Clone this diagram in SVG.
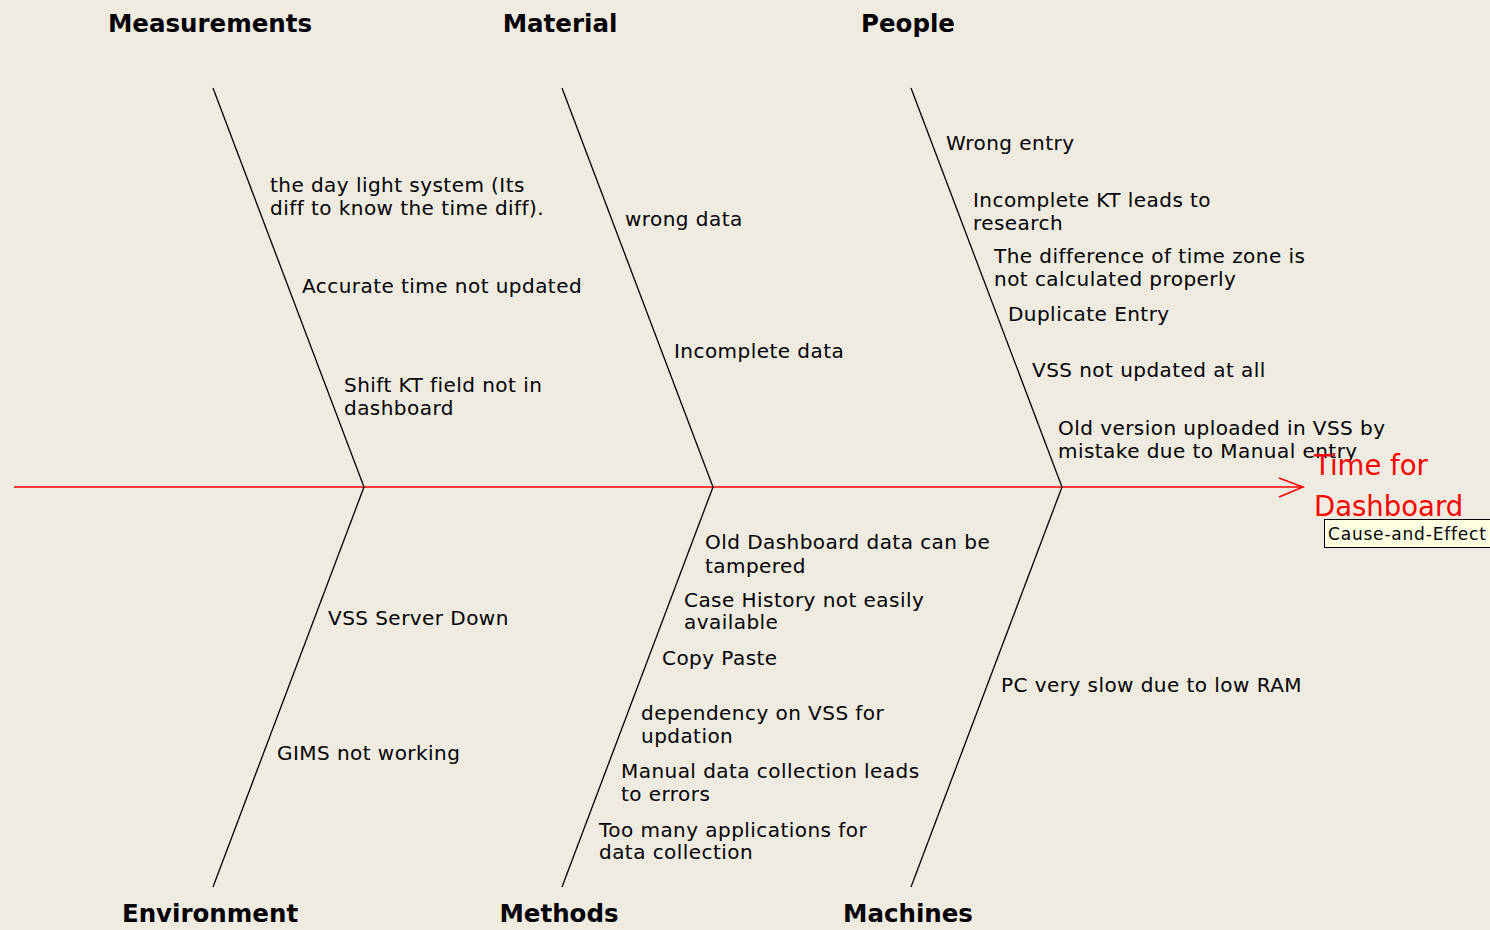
<svg xmlns="http://www.w3.org/2000/svg" width="1490" height="930" viewBox="0 0 1490 930">
<style>
.bg{fill:#EFEBE1}
.bone{stroke:#000;stroke-width:1.3;fill:none}
.spine{stroke:#FF0000;stroke-width:1.5;fill:none}
.cat{font-family:"DejaVu Sans",sans-serif;font-size:24.5px;font-weight:bold;fill:#000;text-anchor:middle}
.lbl{font-family:"DejaVu Sans",sans-serif;font-size:20px;letter-spacing:0.45px;fill:#000}
.eff{font-family:"DejaVu Sans",sans-serif;font-size:27.5px;fill:#FF0000}
.tip{font-family:"DejaVu Sans",sans-serif;font-size:17px;letter-spacing:0.8px;fill:#000}
</style>
<rect class="bg" x="0" y="0" width="1490" height="930"/>
<g id="connectors">
<line class="spine" x1="14" y1="487" x2="1303" y2="487"/>
<polyline class="spine" points="1279,478 1303,487 1279,497"/>
<line class="bone" x1="213" y1="88" x2="364" y2="487"/>
<line class="bone" x1="562" y1="88" x2="713" y2="487"/>
<line class="bone" x1="911" y1="88" x2="1062" y2="487"/>
<line class="bone" x1="364" y1="487" x2="213" y2="887"/>
<line class="bone" x1="713" y1="487" x2="562" y2="887"/>
<line class="bone" x1="1062" y1="487" x2="911" y2="887"/>
</g>
<g id="measurements">
<text class="cat" x="210" y="32">Measurements</text>
<text class="lbl" x="270" y="192">the day light system (Its</text>
<text class="lbl" x="270" y="215">diff to know the time diff).</text>
<text class="lbl" x="302" y="293">Accurate time not updated</text>
<text class="lbl" x="344" y="392">Shift KT field not in</text>
<text class="lbl" x="344" y="415">dashboard</text>
</g>
<g id="material">
<text class="cat" x="560" y="32">Material</text>
<text class="lbl" x="625" y="226">wrong data</text>
<text class="lbl" x="674" y="358">Incomplete data</text>
</g>
<g id="people">
<text class="cat" x="908" y="32">People</text>
<text class="lbl" x="946" y="150">Wrong entry</text>
<text class="lbl" x="973" y="207">Incomplete KT leads to</text>
<text class="lbl" x="973" y="230">research</text>
<text class="lbl" x="994" y="263">The difference of time zone is</text>
<text class="lbl" x="994" y="286">not calculated properly</text>
<text class="lbl" x="1008" y="321">Duplicate Entry</text>
<text class="lbl" x="1032" y="377">VSS not updated at all</text>
<text class="lbl" x="1058" y="435">Old version uploaded in VSS by</text>
<text class="lbl" x="1058" y="458">mistake due to Manual entry</text>
</g>
<g id="environment">
<text class="cat" x="210" y="922">Environment</text>
<text class="lbl" x="328" y="625">VSS Server Down</text>
<text class="lbl" x="277" y="760">GIMS not working</text>
</g>
<g id="methods">
<text class="cat" x="559" y="922">Methods</text>
<text class="lbl" x="705" y="549">Old Dashboard data can be</text>
<text class="lbl" x="705" y="573">tampered</text>
<text class="lbl" x="684" y="607">Case History not easily</text>
<text class="lbl" x="684" y="629">available</text>
<text class="lbl" x="662" y="665">Copy Paste</text>
<text class="lbl" x="641" y="720">dependency on VSS for</text>
<text class="lbl" x="641" y="743">updation</text>
<text class="lbl" x="621" y="778">Manual data collection leads</text>
<text class="lbl" x="621" y="801">to errors</text>
<text class="lbl" x="599" y="837">Too many applications for</text>
<text class="lbl" x="599" y="859">data collection</text>
</g>
<g id="machines">
<text class="cat" x="908" y="922">Machines</text>
<text class="lbl" x="1001" y="692">PC very slow due to low RAM</text>
</g>
<g id="effect">
<text class="eff" x="1314" y="475">Time for</text>
<text class="eff" x="1314" y="516">Dashboard</text>
</g>
<g id="tooltip">
<rect x="1324.5" y="519.5" width="170" height="28" fill="#FFFFE1" stroke="#000" stroke-width="1"/>
<text class="tip" x="1328" y="540">Cause-and-Effect</text>
</g>
</svg>
